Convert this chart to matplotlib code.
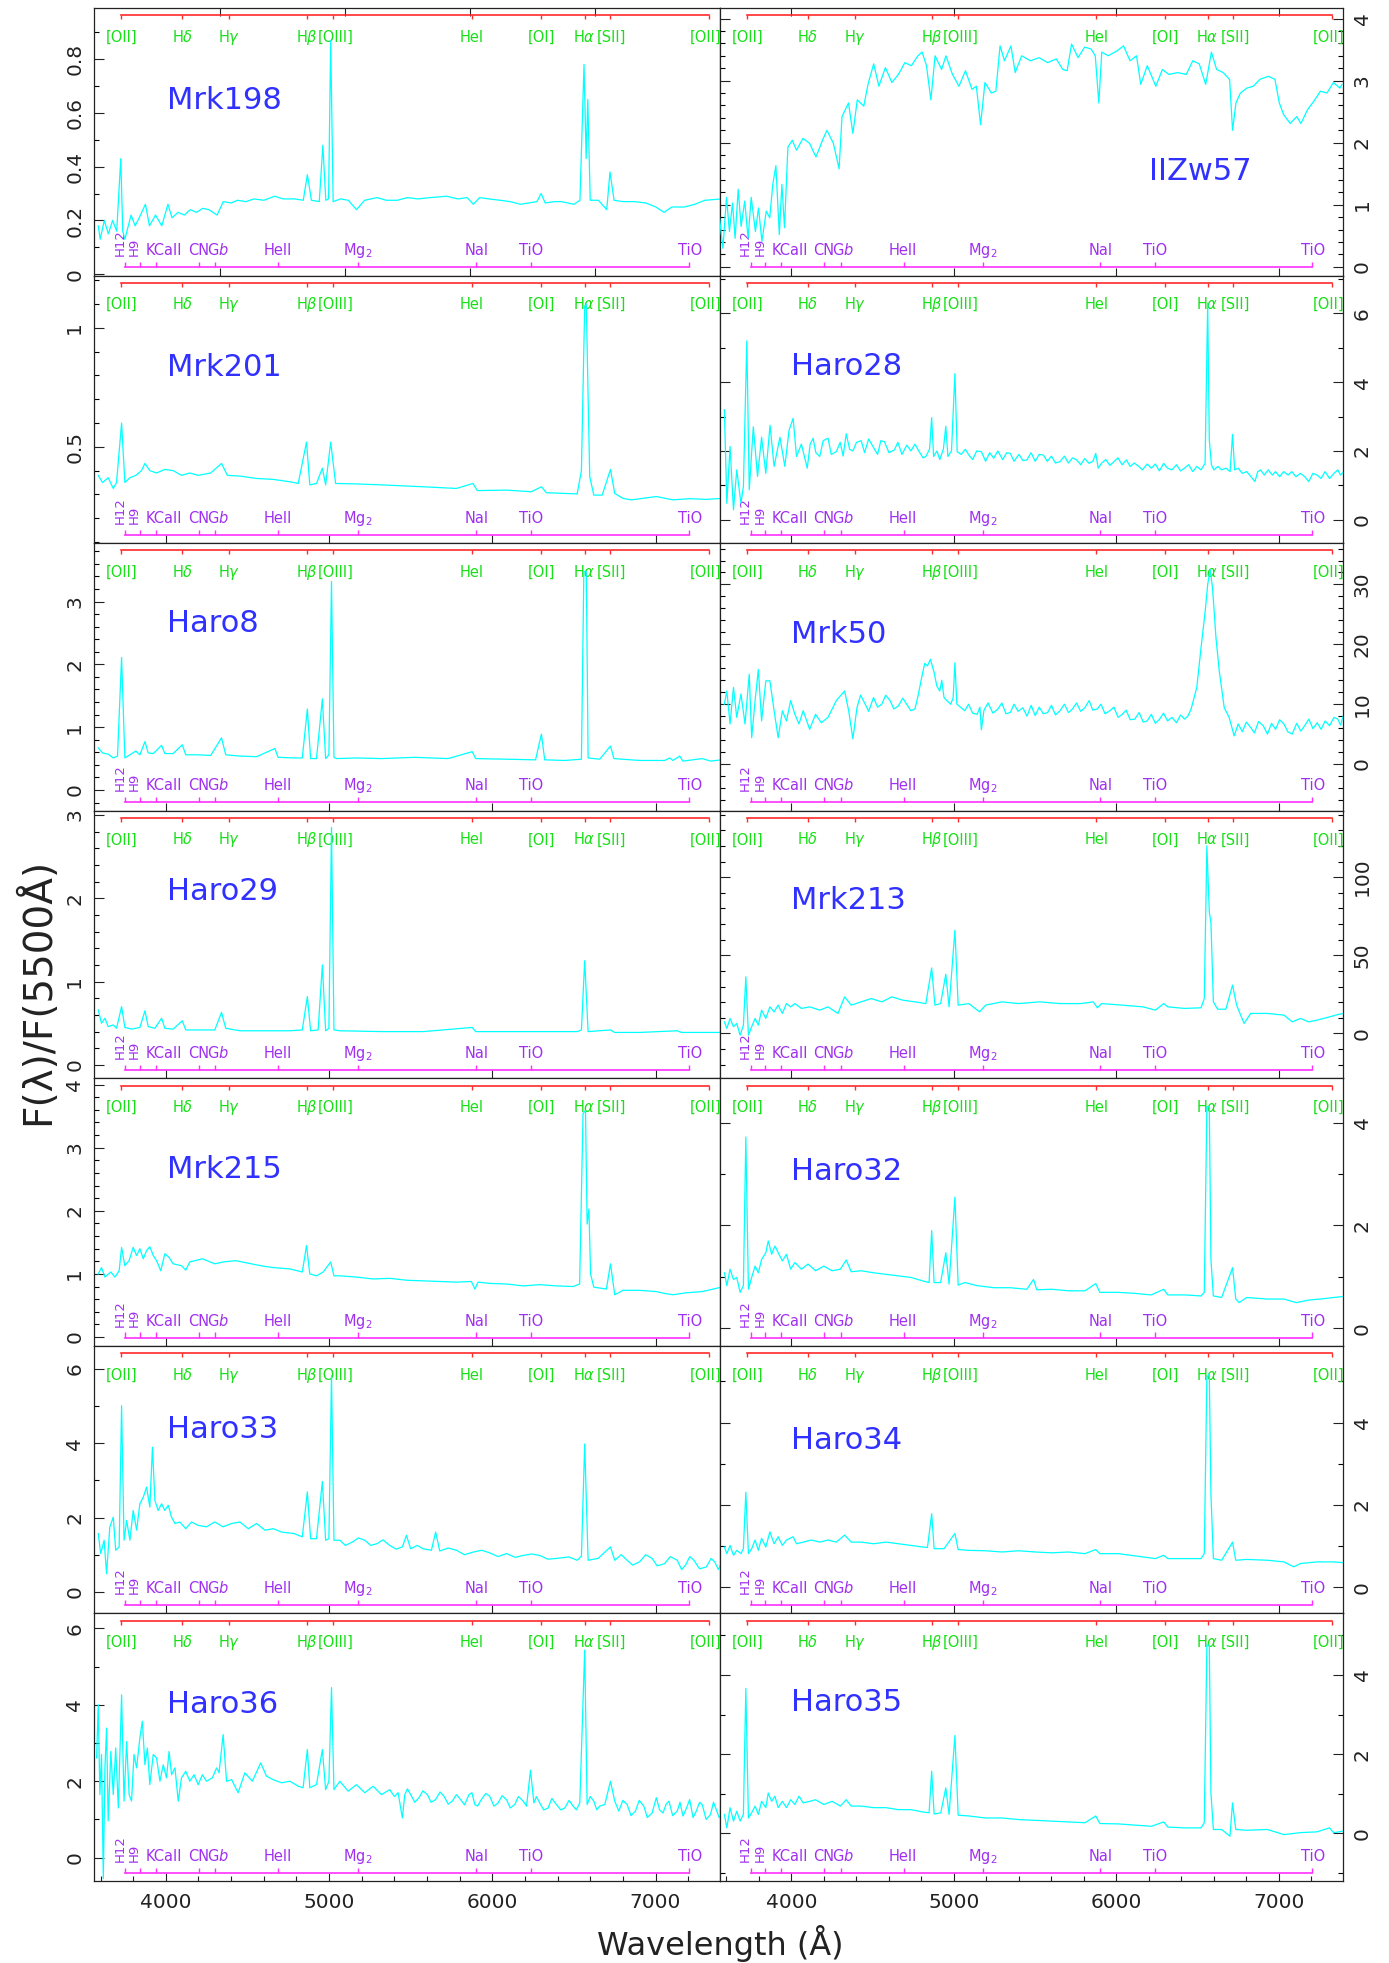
import numpy as np
import matplotlib
matplotlib.use("Agg")
import matplotlib.pyplot as plt
import matplotlib.transforms as mtransforms
from matplotlib.ticker import MultipleLocator, FixedLocator, FuncFormatter, NullLocator

# ---------------- data: (wavelength [A], F/F5500) ----------------
mrk198 = [(3586, 0.18), (3598, 0.13), (3623, 0.20), (3648, 0.15), (3674, 0.20), (3699, 0.16),
          (3724, 0.43), (3736, 0.16), (3749, 0.13), (3787, 0.22), (3812, 0.18), (3837, 0.21),
          (3875, 0.26), (3900, 0.18), (3937, 0.22), (3975, 0.18), (4013, 0.26), (4038, 0.21),
          (4075, 0.23), (4113, 0.22), (4150, 0.24), (4189, 0.23), (4225, 0.245), (4264, 0.24),
          (4314, 0.22), (4352, 0.27), (4400, 0.265), (4440, 0.275), (4490, 0.27), (4540, 0.28),
          (4600, 0.275), (4666, 0.29), (4720, 0.28), (4791, 0.28), (4842, 0.275), (4867, 0.37),
          (4892, 0.275), (4940, 0.27), (4962, 0.48), (4980, 0.275), (4997, 0.28), (5010, 0.87),
          (5025, 0.27), (5070, 0.28), (5118, 0.275), (5168, 0.24), (5218, 0.275), (5294, 0.285),
          (5350, 0.275), (5419, 0.275), (5480, 0.285), (5545, 0.28), (5620, 0.285), (5721, 0.29),
          (5790, 0.28), (5846, 0.285), (5884, 0.26), (5922, 0.285), (5980, 0.28), (6047, 0.275),
          (6110, 0.27), (6173, 0.26), (6273, 0.27), (6299, 0.30), (6324, 0.265), (6380, 0.27),
          (6424, 0.27), (6500, 0.26), (6537, 0.275), (6562, 0.78), (6575, 0.43), (6585, 0.65),
          (6600, 0.275), (6650, 0.275), (6701, 0.24), (6721, 0.38), (6746, 0.275), (6801, 0.27),
          (6870, 0.27), (6940, 0.265), (7002, 0.25), (7052, 0.23), (7100, 0.25), (7178, 0.25),
          (7240, 0.26), (7303, 0.275), (7404, 0.28)]

iizw57 = [(3557, 0.79), (3578, 0.30), (3600, 1.12), (3618, 0.57), (3637, 1.03), (3653, 0.46),
          (3672, 1.25), (3690, 0.65), (3712, 1.06), (3733, 0.46), (3752, 1.12), (3778, 0.57),
          (3797, 0.95), (3818, 0.41), (3845, 0.90), (3866, 0.79), (3885, 1.33), (3904, 1.63),
          (3925, 0.52), (3941, 1.33), (3957, 0.63), (3978, 1.93), (4005, 2.04), (4031, 1.88),
          (4071, 2.07), (4111, 1.99), (4151, 1.77), (4191, 2.04), (4218, 2.20), (4258, 1.99),
          (4293, 1.58), (4311, 2.42), (4351, 2.64), (4378, 2.15), (4405, 2.69), (4445, 2.59),
          (4471, 2.94), (4506, 3.27), (4538, 2.91), (4578, 3.21), (4618, 2.97), (4658, 3.10),
          (4698, 3.29), (4738, 3.24), (4778, 3.40), (4804, 3.46), (4831, 3.24), (4858, 2.69),
          (4884, 3.40), (4924, 3.18), (4951, 3.40), (4991, 3.10), (5031, 2.91), (5071, 3.16),
          (5111, 2.86), (5138, 2.91), (5164, 2.29), (5191, 2.97), (5231, 2.80), (5258, 2.83),
          (5284, 3.56), (5311, 3.32), (5351, 3.56), (5377, 3.13), (5417, 3.40), (5471, 3.32),
          (5524, 3.37), (5577, 3.29), (5630, 3.35), (5670, 3.18), (5697, 3.16), (5724, 3.59),
          (5764, 3.37), (5804, 3.54), (5844, 3.51), (5870, 3.40), (5892, 2.64), (5910, 3.46),
          (5950, 3.40), (6004, 3.48), (6044, 3.56), (6084, 3.32), (6124, 3.40), (6150, 2.94),
          (6190, 3.24), (6243, 2.91), (6283, 3.18), (6323, 3.10), (6377, 3.13), (6430, 3.10),
          (6470, 3.32), (6510, 3.27), (6550, 2.94), (6585, 3.46), (6617, 3.18), (6657, 3.13),
          (6697, 3.02), (6715, 2.20), (6736, 2.64), (6763, 2.80), (6803, 2.88), (6843, 2.91),
          (6883, 3.02), (6936, 3.07), (6976, 3.02), (7003, 2.64), (7030, 2.45), (7070, 2.31),
          (7110, 2.42), (7136, 2.31), (7176, 2.53), (7216, 2.67), (7256, 2.83), (7296, 2.80),
          (7336, 2.97), (7376, 2.88), (7389, 2.94)]

mrk201 = [(3586, 0.38), (3612, 0.35), (3647, 0.37), (3678, 0.325), (3698, 0.35), (3729, 0.60),
          (3749, 0.35), (3780, 0.37), (3816, 0.38), (3851, 0.40), (3872, 0.43), (3902, 0.40),
          (3943, 0.39), (3994, 0.405), (4045, 0.40), (4096, 0.38), (4147, 0.39), (4198, 0.38),
          (4275, 0.39), (4341, 0.43), (4377, 0.38), (4454, 0.377), (4556, 0.367), (4658, 0.363),
          (4760, 0.353), (4811, 0.346), (4862, 0.52), (4882, 0.34), (4923, 0.346), (4959, 0.41),
          (4979, 0.34), (5010, 0.52), (5040, 0.346), (5168, 0.344), (5321, 0.34), (5576, 0.332),
          (5780, 0.325), (5882, 0.346), (5908, 0.316), (6087, 0.318), (6239, 0.311), (6301, 0.332),
          (6331, 0.307), (6444, 0.304), (6520, 0.302), (6546, 0.40), (6566, 1.09), (6576, 1.10),
          (6587, 0.71), (6597, 0.374), (6622, 0.297), (6673, 0.297), (6724, 0.405), (6750, 0.304),
          (6801, 0.283), (6852, 0.277), (7005, 0.291), (7107, 0.277), (7209, 0.282), (7311, 0.279),
          (7403, 0.283)]

haro28 = [(3587, 3.2), (3602, 0.48), (3622, 2.13), (3643, 0.29), (3663, 1.45), (3689, 0.48),
          (3704, 0.97), (3725, 5.2), (3740, 0.87), (3765, 2.7), (3791, 1.26), (3816, 2.4),
          (3842, 1.35), (3868, 2.75), (3893, 1.55), (3929, 2.4), (3959, 1.55), (3985, 2.6),
          (4010, 2.95), (4031, 1.84), (4061, 2.2), (4097, 1.5), (4115, 2.2), (4133, 2.37),
          (4150, 1.95), (4174, 1.84), (4195, 2.3), (4225, 2.37), (4245, 1.9), (4276, 1.98),
          (4300, 2.25), (4318, 1.85), (4337, 2.5), (4358, 2.05), (4378, 2.0), (4400, 2.25),
          (4429, 2.3), (4450, 1.95), (4475, 2.35), (4505, 2.1), (4530, 1.9), (4550, 2.3),
          (4572, 2.27), (4600, 1.95), (4633, 2.03), (4655, 2.25), (4680, 1.9), (4710, 2.17),
          (4735, 2.0), (4760, 2.2), (4786, 1.98), (4810, 1.8), (4827, 1.84), (4850, 2.05),
          (4863, 2.97), (4875, 1.84), (4895, 2.0), (4913, 1.75), (4935, 2.05), (4950, 2.72),
          (4963, 1.84), (4985, 2.0), (5006, 4.25), (5020, 1.98), (5045, 1.9), (5070, 2.05),
          (5092, 1.88), (5115, 1.75), (5140, 2.0), (5169, 1.98), (5195, 1.7), (5220, 1.95),
          (5245, 1.79), (5270, 2.0), (5300, 1.75), (5325, 1.95), (5347, 1.93), (5370, 1.7),
          (5400, 1.9), (5425, 1.72), (5449, 1.74), (5475, 1.95), (5500, 1.7), (5525, 1.9),
          (5551, 1.88), (5575, 1.7), (5600, 1.85), (5625, 1.65), (5653, 1.69), (5680, 1.85),
          (5705, 1.65), (5730, 1.8), (5756, 1.74), (5780, 1.6), (5805, 1.78), (5832, 1.64),
          (5855, 1.7), (5873, 1.93), (5888, 1.5), (5910, 1.65), (5935, 1.75), (5960, 1.58),
          (5985, 1.69), (6010, 1.8), (6035, 1.6), (6062, 1.74), (6085, 1.55), (6110, 1.65),
          (6138, 1.55), (6160, 1.45), (6190, 1.62), (6215, 1.5), (6240, 1.62), (6265, 1.42),
          (6291, 1.64), (6315, 1.5), (6342, 1.45), (6370, 1.6), (6395, 1.42), (6419, 1.5),
          (6445, 1.6), (6470, 1.4), (6495, 1.55), (6521, 1.45), (6546, 1.64), (6562, 6.3),
          (6572, 2.32), (6585, 1.6), (6600, 1.45), (6625, 1.55), (6648, 1.45), (6675, 1.5),
          (6700, 1.4), (6715, 2.48), (6728, 1.45), (6750, 1.5), (6775, 1.35), (6802, 1.4),
          (6820, 1.3), (6853, 1.11), (6870, 1.4), (6888, 1.45), (6910, 1.3), (6935, 1.45),
          (6960, 1.3), (6980, 1.4), (7005, 1.25), (7030, 1.4), (7057, 1.3), (7080, 1.4),
          (7105, 1.25), (7133, 1.35), (7160, 1.25), (7184, 1.11), (7210, 1.35), (7236, 1.3),
          (7260, 1.2), (7285, 1.4), (7312, 1.2), (7340, 1.35), (7363, 1.45), (7380, 1.3),
          (7399, 1.4)]

haro8 = [(3586, 0.67), (3612, 0.59), (3647, 0.57), (3678, 0.51), (3704, 0.54), (3729, 2.11),
         (3749, 0.51), (3780, 0.56), (3816, 0.62), (3841, 0.56), (3872, 0.77), (3892, 0.59),
         (3923, 0.58), (3974, 0.71), (3994, 0.58), (4045, 0.58), (4101, 0.72), (4122, 0.56),
         (4198, 0.56), (4275, 0.55), (4341, 0.83), (4367, 0.56), (4454, 0.54), (4556, 0.53),
         (4668, 0.66), (4688, 0.52), (4785, 0.51), (4836, 0.51), (4867, 1.29), (4887, 0.50),
         (4923, 0.50), (4959, 1.45), (4979, 0.50), (4999, 0.56), (5015, 3.32), (5030, 0.52),
         (5046, 0.50), (5168, 0.51), (5321, 0.50), (5525, 0.52), (5729, 0.50), (5877, 0.61),
         (5898, 0.50), (6087, 0.49), (6265, 0.48), (6301, 0.89), (6321, 0.48), (6444, 0.47),
         (6546, 0.49), (6561, 3.48), (6576, 3.48), (6587, 0.51), (6658, 0.49), (6724, 0.70),
         (6745, 0.50), (6903, 0.47), (7056, 0.47), (7087, 0.51), (7107, 0.47), (7148, 0.54),
         (7168, 0.46), (7286, 0.50), (7337, 0.46), (7403, 0.48)]

mrk50 = [(3587, 10.0), (3602, 12.2), (3622, 6.7), (3643, 12.8), (3663, 7.8), (3689, 11.7),
         (3714, 6.7), (3740, 15.0), (3755, 4.4), (3776, 10.6), (3796, 15.8), (3816, 7.2),
         (3842, 13.9), (3867, 13.9), (3893, 8.9), (3918, 4.4), (3944, 8.9), (3969, 7.2),
         (3995, 10.6), (4021, 8.3), (4046, 6.7), (4072, 8.9), (4112, 5.8), (4148, 8.3),
         (4184, 6.9), (4225, 7.8), (4276, 10.6), (4327, 12.2), (4352, 8.9), (4378, 4.2),
         (4403, 9.4), (4425, 11.5), (4454, 10.0), (4475, 8.8), (4505, 11.1), (4530, 9.5),
         (4556, 10.0), (4580, 11.5), (4607, 10.6), (4630, 9.2), (4658, 9.7), (4685, 11.0),
         (4709, 10.0), (4735, 8.9), (4760, 9.2), (4780, 11.5), (4801, 14.4), (4820, 16.8),
         (4837, 16.4), (4855, 17.5), (4878, 15.3), (4895, 13.0), (4913, 12.2), (4925, 14.0),
         (4939, 11.1), (4960, 10.5), (4980, 10.0), (4995, 11.0), (5006, 16.9), (5018, 10.0),
         (5040, 9.5), (5067, 8.9), (5090, 10.0), (5115, 8.5), (5143, 8.3), (5160, 9.5),
         (5169, 5.7), (5185, 9.0), (5210, 10.2), (5240, 8.5), (5271, 9.2), (5295, 10.2),
         (5320, 8.4), (5347, 8.6), (5370, 10.0), (5395, 8.8), (5424, 9.4), (5450, 8.0),
         (5475, 9.8), (5500, 8.1), (5525, 9.5), (5550, 8.4), (5577, 8.6), (5600, 9.8),
         (5625, 8.2), (5653, 8.9), (5680, 10.0), (5705, 8.6), (5730, 9.2), (5755, 10.2),
         (5780, 8.8), (5806, 9.4), (5832, 10.6), (5855, 9.0), (5883, 9.2), (5905, 10.0),
         (5930, 8.4), (5960, 8.9), (5985, 9.5), (6010, 7.8), (6036, 8.3), (6060, 9.0),
         (6085, 7.4), (6113, 7.5), (6140, 8.6), (6165, 7.0), (6189, 7.2), (6215, 8.3),
         (6240, 6.8), (6266, 7.5), (6290, 8.5), (6315, 7.2), (6342, 7.8), (6370, 6.9),
         (6395, 8.2), (6419, 7.5), (6440, 8.0), (6460, 9.2), (6495, 12.8), (6521, 19.4),
         (6547, 25.6), (6562, 30.0), (6577, 32.5), (6592, 29.4), (6613, 21.1), (6633, 15.6),
         (6664, 9.4), (6694, 7.8), (6725, 4.7), (6750, 6.7), (6775, 5.4), (6800, 7.0),
         (6827, 6.1), (6850, 5.2), (6875, 7.1), (6904, 6.4), (6930, 5.0), (6955, 6.8),
         (6980, 5.8), (7005, 7.4), (7031, 6.7), (7055, 5.4), (7082, 5.0), (7110, 6.8),
         (7135, 5.5), (7159, 6.4), (7185, 7.5), (7210, 5.9), (7236, 6.9), (7260, 5.8),
         (7285, 7.2), (7312, 6.4), (7340, 7.8), (7363, 7.5), (7380, 6.5), (7399, 8.3)]

haro29 = [(3586, 0.66), (3606, 0.50), (3627, 0.56), (3647, 0.46), (3678, 0.48), (3698, 0.44),
          (3729, 0.70), (3749, 0.45), (3790, 0.43), (3841, 0.45), (3872, 0.65), (3892, 0.46),
          (3933, 0.44), (3974, 0.56), (3994, 0.44), (4045, 0.43), (4101, 0.53), (4122, 0.42),
          (4224, 0.42), (4300, 0.42), (4341, 0.63), (4367, 0.44), (4454, 0.41), (4607, 0.41),
          (4760, 0.41), (4836, 0.42), (4867, 0.82), (4887, 0.41), (4933, 0.42), (4959, 1.20),
          (4979, 0.41), (4999, 0.44), (5015, 2.85), (5030, 0.42), (5066, 0.41), (5321, 0.40),
          (5576, 0.40), (5877, 0.45), (5898, 0.40), (6087, 0.40), (6342, 0.40), (6520, 0.40),
          (6546, 0.42), (6566, 1.25), (6587, 0.40), (6724, 0.42), (6750, 0.39), (6903, 0.39),
          (7133, 0.41), (7158, 0.39), (7403, 0.39)]

mrk213 = [(3587, 7.4), (3602, 3.2), (3622, 9.6), (3643, 4.3), (3663, 6.4), (3684, -1.1),
          (3704, 5.3), (3719, 36.2), (3735, -1.1), (3755, 4.3), (3776, 9.6), (3796, 5.3),
          (3816, 14.9), (3842, 9.6), (3867, 17.0), (3893, 13.8), (3918, 18.1), (3944, 12.8),
          (3969, 19.1), (3995, 17.0), (4021, 19.1), (4061, 16.0), (4112, 17.0), (4174, 14.9),
          (4225, 17.0), (4286, 12.8), (4327, 23.4), (4368, 18.1), (4429, 20.2), (4490, 22.3),
          (4556, 20.2), (4618, 23.4), (4684, 21.3), (4760, 20.2), (4827, 19.1), (4863, 41.9),
          (4883, 18.1), (4918, 19.1), (4950, 37.9), (4970, 17.0), (5006, 66.0), (5026, 18.1),
          (5092, 19.1), (5158, 13.8), (5195, 18.1), (5296, 20.2), (5398, 19.1), (5526, 20.2),
          (5653, 19.1), (5781, 19.1), (5858, 20.2), (5883, 16.4), (5909, 19.1), (6036, 18.1),
          (6164, 17.0), (6240, 14.9), (6291, 19.1), (6317, 17.0), (6419, 16.0), (6521, 16.4),
          (6541, 22.3), (6557, 120.0), (6572, 77.7), (6582, 71.0), (6597, 20.2), (6623, 15.5),
          (6674, 15.5), (6715, 30.9), (6740, 18.1), (6786, 6.4), (6827, 12.8), (6929, 12.8),
          (7031, 11.7), (7083, 7.4), (7133, 9.6), (7184, 7.4), (7235, 8.5), (7312, 10.6),
          (7363, 12.1), (7399, 12.8)]

mrk215 = [(3586, 1.00), (3606, 1.10), (3627, 0.95), (3663, 1.03), (3688, 0.95), (3714, 1.05),
          (3729, 1.42), (3749, 1.13), (3775, 1.21), (3800, 1.42), (3821, 1.29), (3841, 1.40),
          (3862, 1.24), (3882, 1.37), (3902, 1.43), (3923, 1.29), (3943, 1.21), (3969, 1.05),
          (3994, 1.32), (4020, 1.26), (4045, 1.16), (4096, 1.13), (4122, 1.06), (4147, 1.19),
          (4224, 1.24), (4300, 1.16), (4351, 1.19), (4428, 1.21), (4505, 1.17), (4581, 1.13),
          (4658, 1.10), (4760, 1.08), (4836, 1.03), (4862, 1.45), (4882, 1.00), (4923, 0.97),
          (4964, 1.03), (5010, 1.19), (5030, 0.97), (5066, 0.97), (5168, 0.95), (5270, 0.92),
          (5372, 0.93), (5474, 0.90), (5576, 0.89), (5678, 0.88), (5780, 0.87), (5872, 0.88),
          (5893, 0.76), (5913, 0.87), (5984, 0.85), (6087, 0.84), (6189, 0.81), (6291, 0.83),
          (6393, 0.81), (6495, 0.80), (6535, 0.84), (6556, 3.54), (6571, 3.59), (6581, 1.79),
          (6592, 2.03), (6602, 1.00), (6622, 0.79), (6699, 0.76), (6724, 1.16), (6750, 0.67),
          (6801, 0.74), (6903, 0.74), (7005, 0.72), (7056, 0.69), (7107, 0.67), (7184, 0.70),
          (7286, 0.72), (7403, 0.79)]

haro32 = [(3587, 1.08), (3602, 0.83), (3622, 1.15), (3643, 0.95), (3663, 0.99), (3684, 0.70),
          (3704, 0.83), (3719, 3.72), (3735, 0.76), (3755, 0.99), (3776, 1.21), (3796, 1.08),
          (3816, 1.34), (3842, 1.47), (3857, 1.70), (3878, 1.44), (3898, 1.60), (3918, 1.47),
          (3944, 1.31), (3969, 1.44), (3995, 1.15), (4021, 1.28), (4061, 1.15), (4102, 1.25),
          (4148, 1.12), (4199, 1.21), (4250, 1.12), (4301, 1.15), (4337, 1.33), (4368, 1.10),
          (4429, 1.12), (4505, 1.08), (4582, 1.05), (4658, 1.02), (4735, 0.99), (4811, 0.92),
          (4847, 0.89), (4863, 1.90), (4878, 0.89), (4918, 0.89), (4950, 1.47), (4970, 0.86),
          (5006, 2.55), (5026, 0.84), (5067, 0.89), (5143, 0.83), (5245, 0.79), (5347, 0.79),
          (5449, 0.76), (5490, 0.95), (5510, 0.75), (5603, 0.76), (5704, 0.73), (5807, 0.73),
          (5873, 0.87), (5898, 0.70), (6011, 0.70), (6113, 0.68), (6215, 0.65), (6291, 0.76),
          (6317, 0.65), (6419, 0.65), (6521, 0.63), (6541, 0.70), (6557, 4.31), (6572, 4.31),
          (6582, 1.34), (6597, 0.63), (6648, 0.60), (6715, 1.18), (6735, 0.57), (6756, 0.50),
          (6802, 0.60), (6929, 0.57), (7031, 0.57), (7108, 0.50), (7184, 0.55), (7286, 0.58),
          (7337, 0.60), (7399, 0.62)]

haro33 = [(3586, 1.57), (3601, 1.03), (3622, 1.39), (3637, 0.49), (3657, 1.75), (3678, 2.01),
          (3693, 1.12), (3714, 1.21), (3729, 5.01), (3744, 1.39), (3760, 1.92), (3780, 1.39),
          (3800, 2.19), (3821, 1.66), (3841, 2.37), (3862, 2.55), (3882, 2.82), (3902, 2.28),
          (3918, 3.89), (3933, 2.46), (3953, 2.19), (3974, 2.37), (3994, 2.19), (4015, 2.33),
          (4035, 2.01), (4056, 1.84), (4086, 1.88), (4122, 1.70), (4158, 1.88), (4198, 1.79),
          (4249, 1.75), (4300, 1.88), (4351, 1.75), (4403, 1.84), (4454, 1.88), (4505, 1.70),
          (4556, 1.84), (4607, 1.66), (4658, 1.70), (4709, 1.61), (4785, 1.57), (4836, 1.48),
          (4867, 2.69), (4887, 1.43), (4923, 1.43), (4959, 2.97), (4979, 1.39), (4999, 1.43),
          (5015, 5.82), (5030, 1.39), (5066, 1.39), (5100, 1.25), (5142, 1.34), (5180, 1.45),
          (5219, 1.39), (5255, 1.25), (5295, 1.30), (5330, 1.40), (5372, 1.25), (5410, 1.15),
          (5449, 1.21), (5474, 1.52), (5500, 1.16), (5540, 1.25), (5576, 1.16), (5627, 1.12),
          (5653, 1.61), (5678, 1.10), (5730, 1.18), (5780, 1.12), (5830, 1.00), (5882, 1.07),
          (5935, 1.12), (5984, 1.05), (6035, 0.95), (6087, 1.03), (6140, 0.93), (6189, 0.98),
          (6240, 1.02), (6291, 0.98), (6340, 0.88), (6393, 0.90), (6469, 0.94), (6520, 0.85),
          (6546, 0.96), (6566, 3.98), (6587, 0.85), (6648, 0.90), (6724, 1.21), (6750, 0.85),
          (6790, 1.00), (6826, 0.85), (6860, 0.72), (6903, 0.81), (6940, 1.00), (6979, 0.90),
          (7010, 0.70), (7056, 0.76), (7090, 0.95), (7133, 0.85), (7160, 0.60), (7184, 0.72),
          (7210, 0.95), (7235, 0.85), (7270, 0.62), (7311, 0.67), (7340, 0.90), (7362, 0.81),
          (7385, 0.60), (7403, 0.76)]

haro34 = [(3587, 0.98), (3602, 0.82), (3622, 1.02), (3643, 0.78), (3663, 0.90), (3689, 0.82),
          (3704, 0.94), (3719, 2.31), (3735, 0.82), (3755, 0.94), (3776, 1.15), (3796, 0.90),
          (3816, 1.19), (3842, 0.98), (3867, 1.35), (3893, 1.06), (3918, 1.23), (3944, 1.02),
          (3969, 1.15), (4010, 1.23), (4031, 1.06), (4072, 1.10), (4123, 1.15), (4174, 1.10),
          (4225, 1.15), (4276, 1.10), (4327, 1.27), (4368, 1.10), (4429, 1.10), (4505, 1.06),
          (4582, 1.10), (4658, 1.06), (4735, 1.02), (4811, 0.98), (4837, 0.97), (4863, 1.79),
          (4878, 0.94), (4939, 0.94), (5006, 1.31), (5026, 0.92), (5092, 0.90), (5194, 0.89),
          (5296, 0.86), (5398, 0.89), (5500, 0.86), (5603, 0.84), (5704, 0.86), (5807, 0.82),
          (5873, 0.92), (5898, 0.82), (6011, 0.82), (6087, 0.78), (6164, 0.74), (6240, 0.70),
          (6291, 0.78), (6317, 0.70), (6419, 0.70), (6521, 0.70), (6541, 0.82), (6557, 5.10),
          (6572, 5.18), (6582, 2.27), (6597, 0.70), (6648, 0.66), (6715, 1.10), (6735, 0.66),
          (6802, 0.68), (6929, 0.66), (7031, 0.62), (7092, 0.50), (7133, 0.58), (7235, 0.62),
          (7337, 0.62), (7399, 0.60)]

haro36 = [(3576, 2.61), (3586, 4.00), (3596, 1.65), (3606, 2.70), (3617, -0.55), (3627, 2.35),
          (3637, 3.39), (3647, 0.96), (3663, 2.78), (3678, 1.65), (3693, 2.87), (3709, 1.30),
          (3729, 4.26), (3744, 1.48), (3760, 3.04), (3775, 1.65), (3790, 1.48), (3805, 2.70),
          (3821, 2.35), (3841, 3.13), (3856, 3.57), (3872, 2.43), (3887, 2.87), (3902, 1.91),
          (3923, 2.70), (3943, 2.61), (3964, 2.00), (3984, 2.43), (4004, 2.09), (4020, 2.78),
          (4035, 2.17), (4056, 2.35), (4076, 1.48), (4096, 2.09), (4122, 2.26), (4147, 2.00),
          (4173, 2.17), (4198, 1.91), (4224, 2.17), (4249, 2.00), (4285, 2.09), (4311, 2.35),
          (4326, 2.22), (4351, 3.22), (4372, 2.00), (4403, 2.04), (4443, 1.70), (4484, 2.22),
          (4530, 2.00), (4581, 2.48), (4617, 2.13), (4658, 2.04), (4709, 1.96), (4760, 2.00),
          (4811, 1.87), (4841, 1.83), (4867, 2.83), (4882, 1.83), (4923, 1.91), (4959, 2.83),
          (4979, 1.78), (4999, 2.00), (5015, 4.45), (5030, 1.78), (5066, 2.00), (5117, 1.74),
          (5168, 1.91), (5219, 1.70), (5270, 1.87), (5321, 1.65), (5372, 1.78), (5400, 1.60),
          (5423, 1.70), (5449, 1.04), (5464, 1.65), (5480, 1.80), (5500, 1.65), (5525, 1.45),
          (5551, 1.57), (5575, 1.75), (5602, 1.65), (5625, 1.45), (5653, 1.52), (5680, 1.72),
          (5704, 1.61), (5730, 1.40), (5755, 1.48), (5780, 1.65), (5806, 1.52), (5830, 1.38),
          (5857, 1.65), (5875, 1.70), (5893, 1.39), (5910, 1.35), (5933, 1.52), (5960, 1.68),
          (5984, 1.61), (6010, 1.35), (6035, 1.43), (6060, 1.62), (6087, 1.52), (6110, 1.30),
          (6138, 1.39), (6160, 1.60), (6189, 1.48), (6210, 1.35), (6234, 2.29), (6255, 1.43),
          (6270, 1.60), (6291, 1.43), (6315, 1.25), (6342, 1.30), (6365, 1.55), (6393, 1.39),
          (6420, 1.25), (6444, 1.30), (6470, 1.50), (6495, 1.35), (6515, 1.25), (6536, 1.43),
          (6566, 5.43), (6581, 1.39), (6600, 1.60), (6622, 1.48), (6640, 1.25), (6658, 1.35),
          (6689, 1.39), (6724, 2.00), (6750, 1.48), (6775, 1.22), (6800, 1.50), (6826, 1.39),
          (6850, 1.10), (6877, 1.22), (6900, 1.50), (6928, 1.35), (6950, 1.05), (6979, 1.17),
          (7005, 1.57), (7025, 1.25), (7046, 1.17), (7065, 1.40), (7082, 1.48), (7105, 1.10),
          (7133, 1.22), (7150, 1.45), (7168, 1.09), (7190, 1.30), (7209, 1.52), (7230, 1.05),
          (7250, 1.22), (7270, 1.45), (7286, 1.39), (7310, 1.00), (7337, 1.13), (7355, 1.45),
          (7372, 1.26), (7390, 1.05), (7403, 1.13)]

haro35 = [(3587, 0.48), (3602, 0.14), (3622, 0.65), (3643, 0.31), (3663, 0.56), (3684, 0.31),
          (3704, 0.48), (3719, 3.66), (3735, 0.39), (3755, 0.52), (3776, 0.69), (3796, 0.48),
          (3816, 0.81), (3842, 0.65), (3857, 1.02), (3878, 0.81), (3898, 0.94), (3918, 0.65),
          (3944, 0.81), (3969, 0.65), (3995, 0.85), (4021, 0.73), (4046, 0.94), (4072, 0.77),
          (4112, 0.81), (4148, 0.85), (4199, 0.73), (4250, 0.81), (4301, 0.69), (4337, 0.85),
          (4368, 0.69), (4429, 0.69), (4505, 0.65), (4582, 0.65), (4658, 0.60), (4735, 0.60),
          (4811, 0.54), (4847, 0.52), (4863, 1.57), (4878, 0.49), (4919, 0.52), (4950, 1.15),
          (4970, 0.48), (5006, 2.47), (5026, 0.46), (5092, 0.44), (5194, 0.39), (5296, 0.39),
          (5398, 0.35), (5500, 0.33), (5603, 0.31), (5704, 0.29), (5807, 0.27), (5873, 0.44),
          (5898, 0.25), (6011, 0.24), (6113, 0.21), (6215, 0.18), (6291, 0.29), (6317, 0.16),
          (6419, 0.14), (6521, 0.14), (6541, 0.27), (6557, 4.75), (6572, 4.75), (6582, 1.02),
          (6597, 0.10), (6648, 0.10), (6699, -0.07), (6715, 0.77), (6735, 0.10), (6802, 0.08),
          (6929, 0.10), (7031, -0.03), (7133, 0.02), (7235, 0.04), (7312, 0.14), (7337, 0.02),
          (7399, 0.06)]

# panel order: row by row, left then right
names = ["Mrk198", "IIZw57", "Mrk201", "Haro28", "Haro8", "Mrk50", "Haro29", "Mrk213",
         "Mrk215", "Haro32", "Haro33", "Haro34", "Haro36", "Haro35"]
spectra = [mrk198, iizw57, mrk201, haro28, haro8, mrk50, haro29, mrk213,
           mrk215, haro32, haro33, haro34, haro36, haro35]

# y axis ranges and tick steps (major, minor) per panel
y_ranges = [(-0.005, 0.99), (-0.14, 4.17), (0.095, 1.22), (-0.68, 7.1), (-0.33, 3.93),
            (-7.8, 36.9), (-0.16, 3.05), (-28.7, 142.5), (-0.14, 4.1), (-0.34, 4.86),
            (-0.58, 6.62), (-0.63, 5.86), (-0.61, 6.39), (-1.2, 5.55)]
y_steps = [(0.2, 0.1), (1, 0.2), (0.5, 0.1), (2, 1), (1, 0.2), (10, 2), (1, 0.2), (50, 10),
           (1, 0.2), (2, 1), (2, 1), (2, 1), (2, 1), (2, 1)]

# emission lines (top, red) and absorption features (bottom, magenta)
em_wave = [3727, 4101, 4390, 4865, 5025, 5876, 6300, 6565, 6720, 7330]
em_text_wave = [3731, 4101, 4390, 4862, 5040, 5876, 6300, 6562, 6730, 7309]
em_text = ["[OII]", r"H$\delta$", r"H$\gamma$", r"H$\beta$", "[OIII]", "HeI", "[OI]",
           r"H$\alpha$", "[SII]", "[OII]"]
abs_wave = [3752, 3840, 3937, 4202, 4302, 4690, 5178, 5900, 6240, 7205]
abs_text_wave = [3990, 4200, 4318, 4686, 5178, 5905, 6240, 7209]
abs_text = ["KCaII", "CN", r"G$b$", "HeII", r"Mg$_2$", "NaI", "TiO", "TiO"]
hseries_wave = [3718, 3806]
hseries_text = ["H12", "H9"]

# bottom ticks of the first left panel sit at odd places in the original
top_left_xticks = [4330, 5100, 5865, 6630]

# ---------------- layout ----------------
W, H = 1389, 1963
XLIM = (3560, 7395)
name_x = [4010, 6200, 4010, 4000, 4010, 4000, 4010, 4000, 4010, 4000, 4010, 4000, 4010, 4000]
name_y = [0.655, 0.39, 0.656, 0.662, 0.70, 0.658, 0.698, 0.665, 0.658, 0.65, 0.686, 0.646,
          0.661, 0.667]

CYAN = "#00ffff"
RED = "#ff2a2a"
GREEN = "#18e018"
PURPLE = "#a030f0"
MAGENTA = "#ff30ff"
BLUE = "#3030ff"
INK = "#222222"

fig = plt.figure(figsize=(W / 100, H / 100), dpi=100)
x_left, x_mid, x_right = 94 / W, 720 / W, 1343 / W
y_top, y_bot = 1 - 8 / H, 1 - 1881 / H
row_h = (y_top - y_bot) / 7

fmt = FuncFormatter(lambda v, p: f"{v:g}")

for k, (name, spec) in enumerate(zip(names, spectra)):
    row, col = divmod(k, 2)
    y0 = y_top - (row + 1) * row_h
    if col == 0:
        ax = fig.add_axes([x_left, y0, x_mid - x_left, row_h])
    else:
        ax = fig.add_axes([x_mid, y0, x_right - x_mid, row_h])

    wl, fx = np.array(spec).T
    ax.plot(wl, fx, color=CYAN, lw=0.9, zorder=3)
    ax.set_xlim(*XLIM)
    ax.set_ylim(*y_ranges[k])

    for s in ax.spines.values():
        s.set_linewidth(0.9)
        s.set_color(INK)

    # x ticks
    if row == 0 and col == 0:
        ax.xaxis.set_major_locator(FixedLocator(top_left_xticks))
    else:
        ax.xaxis.set_major_locator(MultipleLocator(1000))
    if row == 6:
        ax.xaxis.set_minor_locator(MultipleLocator(200))
    else:
        ax.xaxis.set_minor_locator(NullLocator())
    ax.tick_params(axis="x", which="both", direction="in", top=(row == 0), bottom=True,
                   labelbottom=(row == 6), labelsize=14.5, pad=9, colors=INK)
    ax.tick_params(axis="x", which="major", length=6, width=0.8)
    ax.tick_params(axis="x", which="minor", length=3.5, width=0.8)

    # y ticks
    major, minor = y_steps[k]
    ax.yaxis.set_major_locator(MultipleLocator(major))
    ax.yaxis.set_minor_locator(MultipleLocator(minor))
    ax.yaxis.set_major_formatter(fmt)
    if col == 0:
        ax.tick_params(axis="y", which="both", direction="in", left=True, right=False,
                       labelleft=True, labelright=False)
    else:
        ax.tick_params(axis="y", which="both", direction="in", left=True, right=True,
                       labelleft=False, labelright=True)
    ax.tick_params(axis="y", which="major", length=7.5, width=0.8, labelsize=14.5,
                   labelrotation=90, pad=7, colors=INK)
    ax.tick_params(axis="y", which="minor", length=3.5, width=0.8)
    for tick in ax.yaxis.get_major_ticks():
        tick.label1.set_va("center")
        tick.label2.set_va("center")

    trans = mtransforms.blended_transform_factory(ax.transData, ax.transAxes)

    # emission-line ruler
    ax.plot([em_wave[0], em_wave[-1]], [0.973, 0.973], color=RED, lw=1.2,
            transform=trans, clip_on=False, zorder=2)
    ax.vlines(em_wave, 0.958, 0.973, color=RED, lw=1.0, transform=trans, zorder=2)
    for xw, lab in zip(em_text_wave, em_text):
        ax.text(xw, 0.874, lab, color=GREEN, fontsize=10.5, ha="center", va="baseline",
                transform=trans, zorder=2)

    # absorption-feature ruler
    ax.plot([abs_wave[0], abs_wave[-1]], [0.031, 0.031], color=MAGENTA, lw=1.2,
            transform=trans, zorder=2)
    ax.vlines(abs_wave, 0.031, 0.05, color=MAGENTA, lw=1.0, transform=trans, zorder=2)
    for xw, lab in zip(abs_text_wave, abs_text):
        ax.text(xw, 0.076, lab, color=PURPLE, fontsize=10.5, ha="center", va="baseline",
                transform=trans, zorder=2)
    for xw, lab in zip(hseries_wave, hseries_text):
        ax.text(xw, 0.072, lab, color=PURPLE, fontsize=9.5, ha="center", va="bottom",
                rotation=90, transform=trans, zorder=2)

    # galaxy name
    ax.text(name_x[k], name_y[k], name, color=BLUE, fontsize=22, ha="left", va="center",
            transform=trans, zorder=4)

fig.text(37 / W, 1 - 991 / H, "F(λ)/F(5500Å)", rotation=90, ha="center", va="center",
         fontsize=28, color=INK)
fig.text(720 / W, 1 - 1943 / H, "Wavelength (Å)", ha="center", va="center",
         fontsize=23, color=INK)

fig.savefig("out.png", dpi=100)
